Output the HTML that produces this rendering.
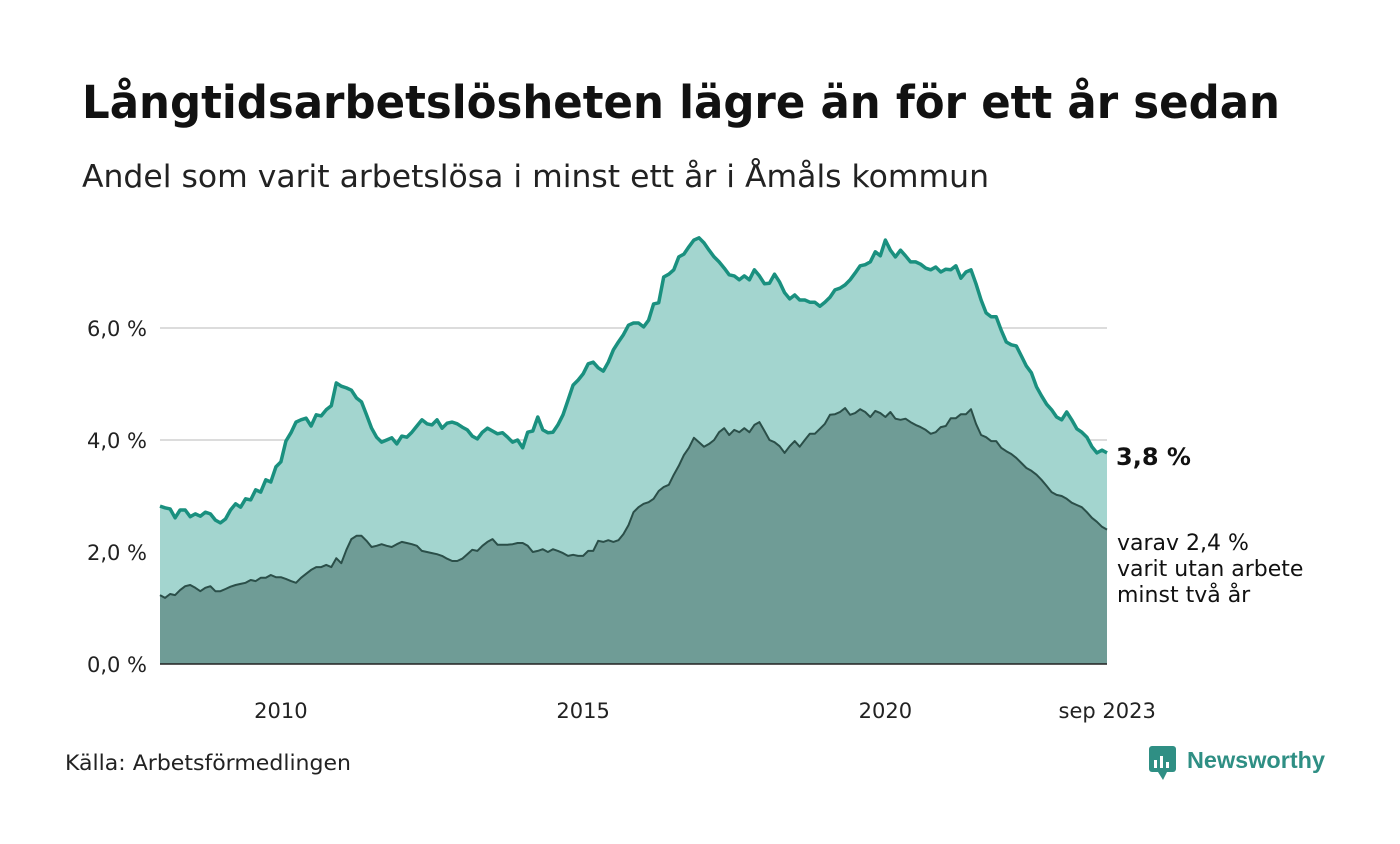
<!DOCTYPE html>
<html><head><meta charset="utf-8"><style>
body{margin:0;background:#fff;width:1400px;height:840px;overflow:hidden;font-family:"DejaVu Sans","Liberation Sans",sans-serif;}
</style></head><body>
<svg width="1400" height="840" xmlns="http://www.w3.org/2000/svg">
<text x="82" y="118" font-size="45" font-weight="bold" fill="#111" textLength="1198" lengthAdjust="spacingAndGlyphs">Långtidsarbetslösheten lägre än för ett år sedan</text>
<text x="82" y="187" font-size="31" fill="#222" textLength="907" lengthAdjust="spacingAndGlyphs">Andel som varit arbetslösa i minst ett år i Åmåls kommun</text>
<g id="grid"></g>
<g id="areas"></g>
<g id="yticks"></g>
<g id="xticks"></g>
<text x="1116" y="465" font-size="24" font-weight="bold" fill="#111">3,8 %</text>
<text font-size="22" fill="#111"><tspan x="1117" y="550">varav 2,4 %</tspan><tspan x="1117" y="576">varit utan arbete</tspan><tspan x="1117" y="602">minst två år</tspan></text>
<text x="65" y="770" font-size="21" fill="#222" textLength="286" lengthAdjust="spacingAndGlyphs">Källa: Arbetsförmedlingen</text>
<g>
<rect x="1149" y="746" width="27" height="26" rx="3" fill="#2f8f84"/>
<polygon points="1158,772 1163,780 1167,772" fill="#2f8f84"/>
<rect x="1154" y="760" width="3" height="8" fill="#fff"/><rect x="1160" y="756" width="3" height="12" fill="#fff"/><rect x="1166" y="762" width="3" height="6" fill="#fff"/>
<text x="1187" y="768" font-size="23" font-weight="bold" fill="#2f8f84" font-family="Liberation Sans, sans-serif" textLength="138" lengthAdjust="spacingAndGlyphs">Newsworthy</text>
</g>
</svg>
<script>
const total=[2.82,2.79,2.77,2.61,2.75,2.75,2.63,2.68,2.64,2.71,2.68,2.57,2.52,2.59,2.75,2.86,2.80,2.95,2.93,3.11,3.07,3.29,3.25,3.52,3.61,3.98,4.13,4.32,4.36,4.39,4.25,4.45,4.43,4.54,4.61,5.02,4.96,4.93,4.89,4.75,4.68,4.45,4.21,4.05,3.96,4.00,4.04,3.93,4.07,4.05,4.14,4.25,4.36,4.29,4.27,4.36,4.21,4.30,4.32,4.29,4.23,4.18,4.07,4.02,4.14,4.21,4.16,4.11,4.13,4.05,3.96,4.00,3.86,4.14,4.16,4.41,4.18,4.13,4.14,4.27,4.45,4.71,4.98,5.07,5.18,5.36,5.39,5.29,5.23,5.39,5.61,5.75,5.88,6.05,6.09,6.09,6.02,6.14,6.43,6.45,6.91,6.96,7.04,7.27,7.32,7.45,7.57,7.61,7.52,7.39,7.27,7.18,7.07,6.95,6.93,6.86,6.93,6.86,7.04,6.93,6.79,6.80,6.96,6.82,6.63,6.52,6.59,6.50,6.50,6.46,6.46,6.39,6.46,6.55,6.68,6.71,6.77,6.86,6.98,7.11,7.13,7.18,7.36,7.29,7.57,7.39,7.27,7.39,7.29,7.18,7.18,7.14,7.07,7.04,7.09,7.00,7.05,7.04,7.11,6.89,7.00,7.04,6.79,6.50,6.27,6.20,6.20,5.96,5.75,5.70,5.68,5.50,5.32,5.20,4.95,4.79,4.64,4.54,4.41,4.36,4.50,4.36,4.20,4.14,4.05,3.88,3.77,3.82,3.77];
const twoYears=[1.23,1.18,1.25,1.23,1.32,1.39,1.41,1.36,1.30,1.36,1.39,1.30,1.30,1.34,1.38,1.41,1.43,1.45,1.50,1.48,1.54,1.54,1.59,1.55,1.55,1.52,1.48,1.45,1.54,1.61,1.68,1.73,1.73,1.77,1.73,1.89,1.80,2.04,2.23,2.29,2.29,2.20,2.09,2.11,2.14,2.11,2.09,2.14,2.18,2.16,2.14,2.11,2.02,2.00,1.98,1.96,1.93,1.88,1.84,1.84,1.88,1.96,2.04,2.02,2.11,2.18,2.23,2.13,2.13,2.13,2.14,2.16,2.16,2.11,2.00,2.02,2.05,2.00,2.05,2.02,1.98,1.93,1.95,1.93,1.93,2.02,2.02,2.20,2.18,2.21,2.18,2.21,2.32,2.48,2.71,2.80,2.86,2.89,2.95,3.09,3.16,3.20,3.38,3.54,3.73,3.86,4.04,3.96,3.88,3.93,4.00,4.14,4.21,4.09,4.18,4.14,4.21,4.14,4.27,4.32,4.16,4.00,3.96,3.89,3.77,3.89,3.98,3.88,4.00,4.11,4.11,4.20,4.29,4.45,4.46,4.50,4.57,4.45,4.48,4.55,4.50,4.41,4.52,4.48,4.41,4.50,4.38,4.36,4.38,4.32,4.27,4.23,4.18,4.11,4.14,4.23,4.25,4.39,4.39,4.46,4.46,4.55,4.29,4.09,4.05,3.98,3.98,3.86,3.80,3.75,3.68,3.59,3.50,3.45,3.38,3.29,3.18,3.07,3.02,3.00,2.95,2.88,2.84,2.80,2.71,2.61,2.54,2.45,2.40];
const yTicks=[0,2,4,6];
const yTickLabels=["0,0 %","2,0 %","4,0 %","6,0 %"];
const xTickYears=[2010,2015,2020,2023.67];
const xTickLabels=["2010","2015","2020","sep 2023"];
const startYear=2008.0;

const NS="http://www.w3.org/2000/svg";
const x0=160,x1=1107,yBase=664,pxPerPct=56;
const endYear=startYear+(total.length-1)/12;
function xs(i,n){return x0+(x1-x0)*i/(n-1);}
function xYear(yr){return x0+(x1-x0)*(yr-startYear)/(endYear-startYear);}
function ys(v){return yBase-v*pxPerPct;}
function mk(tag,attrs,parent){const e=document.createElementNS(NS,tag);for(const k in attrs)e.setAttribute(k,attrs[k]);parent.appendChild(e);return e;}

const grid=document.getElementById('grid');
const yt=document.getElementById('yticks');
yTicks.forEach((v,i)=>{
  if(v>0){const l=mk('line',{x1:x0,x2:x1,y1:ys(v),y2:ys(v),stroke:'#dcdcdc','stroke-width':2},grid);
  
  }
  const t=mk('text',{x:147,y:ys(v)+8,'font-size':21,fill:'#222','text-anchor':'end'},yt);
  t.textContent=yTickLabels[i];
  
  
});
const xt=document.getElementById('xticks');
xTickYears.forEach((yr,i)=>{
  const t=mk('text',{x:xYear(yr),y:718,'font-size':21,fill:'#222','text-anchor':'middle'},xt);
  t.textContent=xTickLabels[i];
  
  
});
function linePts(arr){return arr.map((v,i)=>xs(i,arr.length).toFixed(1)+','+ys(v).toFixed(1)).join(' ');}
function areaPts(arr){return x0+','+yBase+' '+linePts(arr)+' '+x1+','+yBase;}
const g=document.getElementById('areas');
const a1=mk('polygon',{points:areaPts(total),fill:'#a3d5cf'},g);


const a2=mk('polygon',{points:areaPts(twoYears),fill:'#6f9c96'},g);


const l1=mk('polyline',{points:linePts(total),fill:'none',stroke:'#1a907f','stroke-width':3.5,'stroke-linejoin':'round'},g);


const l2=mk('polyline',{points:linePts(twoYears),fill:'none',stroke:'#2b4f49','stroke-width':2,'stroke-linejoin':'round'},g);


const base=mk('line',{x1:x0,x2:x1,y1:yBase,y2:yBase,stroke:'#222','stroke-width':1.5},g);


</script>
</body></html>
